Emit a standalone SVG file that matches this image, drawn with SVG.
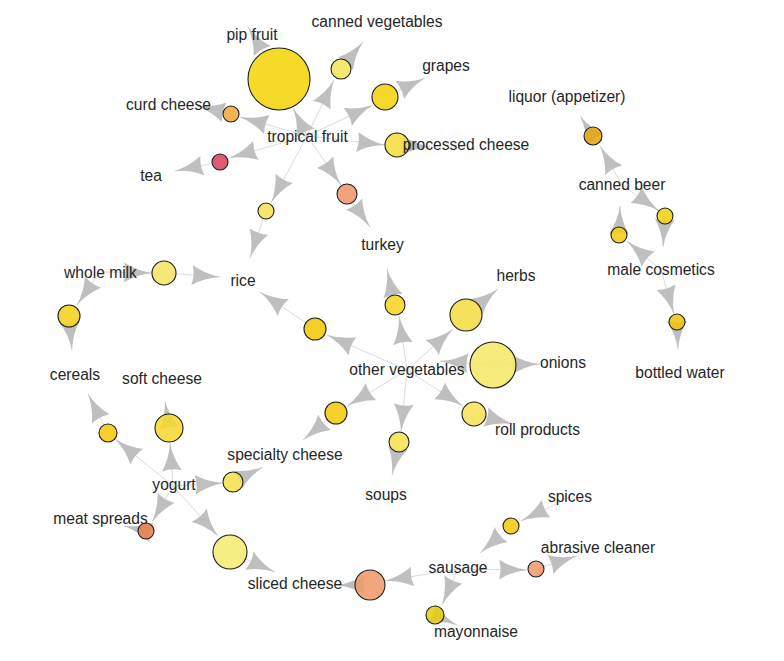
<svg xmlns="http://www.w3.org/2000/svg" width="784" height="661" viewBox="0 0 784 661">
<style>
.e{stroke:#cacaca;stroke-width:0.7;fill:none;marker-end:url(#ah)}
.r{stroke:#1e1e1e;stroke-width:1.1;fill-opacity:0.88}
.t{font-family:"Liberation Sans",Arial,sans-serif;font-size:15.6px;fill:#262626;text-anchor:middle}
</style>
<defs>
<marker id="ah" viewBox="0 0 28 20" markerWidth="28" markerHeight="20" refX="28" refY="10" orient="auto" markerUnits="userSpaceOnUse">
<path d="M28,10 Q12,7.8 0,0 Q3,10 0,20 Q12,12.2 28,10 Z" fill="#bcbcbc" fill-opacity="0.95"/>
</marker>
</defs>
<rect width="784" height="661" fill="#ffffff"/>
<g id="edges">
<path class="e" d="M307,136 L293,108"/>
<path class="e" d="M279,79 L248,27"/>
<path class="e" d="M307,136 L334,80"/>
<path class="e" d="M341,69 L363,42"/>
<path class="e" d="M307,136 L373,105"/>
<path class="e" d="M385,97 L425,78"/>
<path class="e" d="M307,136 L240,117"/>
<path class="e" d="M231,114 L197,106"/>
<path class="e" d="M307,136 L229,158"/>
<path class="e" d="M220,162 L175,171"/>
<path class="e" d="M307,136 L385,145"/>
<path class="e" d="M397,145 L430,147"/>
<path class="e" d="M307,136 L341,185"/>
<path class="e" d="M347,194 L370,227"/>
<path class="e" d="M307,136 L271,203"/>
<path class="e" d="M266,211 L250,258"/>
<path class="e" d="M100,272 L152,273"/>
<path class="e" d="M164,273 L220,277"/>
<path class="e" d="M407,370 L327,335"/>
<path class="e" d="M315,329 L260,292"/>
<path class="e" d="M100,272 L77,305"/>
<path class="e" d="M69,316 L72,350"/>
<path class="e" d="M173,486 L170,443"/>
<path class="e" d="M169,428 L165,401"/>
<path class="e" d="M173,486 L115,439"/>
<path class="e" d="M108,433 L88,394"/>
<path class="e" d="M173,486 L223,483"/>
<path class="e" d="M233,482 L263,467"/>
<path class="e" d="M173,486 L152,522"/>
<path class="e" d="M146,531 L124,526"/>
<path class="e" d="M173,486 L218,536"/>
<path class="e" d="M230,552 L275,572"/>
<path class="e" d="M458,569 L385,581"/>
<path class="e" d="M370,585 L337,585"/>
<path class="e" d="M570,497 L521,521"/>
<path class="e" d="M511,526 L480,553"/>
<path class="e" d="M458,569 L527,570"/>
<path class="e" d="M536,569 L577,556"/>
<path class="e" d="M458,569 L442,605"/>
<path class="e" d="M435,615 L457,625"/>
<path class="e" d="M407,370 L399,316"/>
<path class="e" d="M395,305 L387,269"/>
<path class="e" d="M407,370 L453,329"/>
<path class="e" d="M466,315 L498,289"/>
<path class="e" d="M493,365 L440,361"/>
<path class="e" d="M493,365 L540,364"/>
<path class="e" d="M407,370 L463,406"/>
<path class="e" d="M474,414 L513,424"/>
<path class="e" d="M407,370 L401,432"/>
<path class="e" d="M399,442 L392,475"/>
<path class="e" d="M407,370 L347,406"/>
<path class="e" d="M336,413 L303,440"/>
<path class="e" d="M593,136 L580,116"/>
<path class="e" d="M622,185 L600,146"/>
<path class="e" d="M622,185 L659,211"/>
<path class="e" d="M665,216 L663,247"/>
<path class="e" d="M619,235 L620,206"/>
<path class="e" d="M661,270 L627,241"/>
<path class="e" d="M661,270 L674,314"/>
<path class="e" d="M677,322 L678,349"/>
</g>
<g id="rules">
<g id="rule1"><circle class="r" cx="279" cy="79" r="31" fill="#f5d50c"/></g>
<g id="rule2"><circle class="r" cx="341" cy="69" r="10" fill="#f5e55a"/></g>
<g id="rule3"><circle class="r" cx="385" cy="97" r="13" fill="#f5d310"/></g>
<g id="rule4"><circle class="r" cx="231" cy="114" r="8" fill="#f2a83c"/></g>
<g id="rule5"><circle class="r" cx="220" cy="162" r="8" fill="#d9465e"/></g>
<g id="rule6"><circle class="r" cx="397" cy="145" r="12" fill="#f5dc3c"/></g>
<g id="rule7"><circle class="r" cx="347" cy="194" r="10" fill="#f0966c"/></g>
<g id="rule8"><circle class="r" cx="266" cy="211" r="8" fill="#f5e25a"/></g>
<g id="rule9"><circle class="r" cx="164" cy="273" r="12" fill="#f5e466"/></g>
<g id="rule10"><circle class="r" cx="315" cy="329" r="11" fill="#f5c70c"/></g>
<g id="rule11"><circle class="r" cx="69" cy="316" r="11" fill="#f5d21e"/></g>
<g id="rule12"><circle class="r" cx="169" cy="428" r="14" fill="#f5d830"/></g>
<g id="rule13"><circle class="r" cx="108" cy="433" r="9" fill="#f5c80c"/></g>
<g id="rule14"><circle class="r" cx="233" cy="482" r="10" fill="#f5e050"/></g>
<g id="rule15"><circle class="r" cx="146" cy="531" r="8" fill="#e57f4f"/></g>
<g id="rule16"><circle class="r" cx="230" cy="552" r="17" fill="#f5eb72"/></g>
<g id="rule17"><circle class="r" cx="370" cy="585" r="15" fill="#ef9a6c"/></g>
<g id="rule18"><circle class="r" cx="511" cy="526" r="8" fill="#f5c912"/></g>
<g id="rule19"><circle class="r" cx="536" cy="569" r="8" fill="#f09a70"/></g>
<g id="rule20"><circle class="r" cx="435" cy="615" r="9" fill="#e4cf10"/></g>
<g id="rule21"><circle class="r" cx="395" cy="305" r="10" fill="#f5d523"/></g>
<g id="rule22"><circle class="r" cx="466" cy="315" r="16" fill="#f5dd45"/></g>
<g id="rule23"><circle class="r" cx="493" cy="365" r="23" fill="#f5e866"/></g>
<g id="rule24"><circle class="r" cx="474" cy="414" r="12" fill="#f5e35a"/></g>
<g id="rule25"><circle class="r" cx="399" cy="442" r="10" fill="#f5e352"/></g>
<g id="rule26"><circle class="r" cx="336" cy="413" r="11" fill="#f5c90e"/></g>
<g id="rule27"><circle class="r" cx="593" cy="136" r="9" fill="#e6a612"/></g>
<g id="rule28"><circle class="r" cx="665" cy="216" r="8" fill="#f5d216"/></g>
<g id="rule29"><circle class="r" cx="619" cy="235" r="8" fill="#f2cd14"/></g>
<g id="rule30"><circle class="r" cx="677" cy="322" r="8" fill="#edc30d"/></g>
</g>
<g id="items">
<g id="pip-fruit"><text class="t" x="252" y="40">pip fruit</text></g>
<g id="canned-vegetables"><text class="t" x="377" y="27">canned vegetables</text></g>
<g id="grapes"><text class="t" x="446" y="71">grapes</text></g>
<g id="liquor"><text class="t" x="567" y="102">liquor (appetizer)</text></g>
<g id="curd-cheese"><text class="t" x="168.5" y="110">curd cheese</text></g>
<g id="tropical-fruit"><text class="t" x="307.5" y="141.5">tropical fruit</text></g>
<g id="processed-cheese"><text class="t" x="466" y="150">processed cheese</text></g>
<g id="tea"><text class="t" x="151" y="180.5">tea</text></g>
<g id="canned-beer"><text class="t" x="622" y="190">canned beer</text></g>
<g id="turkey"><text class="t" x="382.5" y="250">turkey</text></g>
<g id="whole-milk"><text class="t" x="100.5" y="277.5">whole milk</text></g>
<g id="rice"><text class="t" x="243" y="285.5">rice</text></g>
<g id="herbs"><text class="t" x="516" y="280.5">herbs</text></g>
<g id="male-cosmetics"><text class="t" x="661" y="275">male cosmetics</text></g>
<g id="other-vegetables"><text class="t" x="407" y="374.5">other vegetables</text></g>
<g id="onions"><text class="t" x="563" y="368">onions</text></g>
<g id="bottled-water"><text class="t" x="680" y="378">bottled water</text></g>
<g id="cereals"><text class="t" x="75" y="380">cereals</text></g>
<g id="soft-cheese"><text class="t" x="162" y="383.5">soft cheese</text></g>
<g id="roll-products"><text class="t" x="537.5" y="435">roll products</text></g>
<g id="specialty-cheese"><text class="t" x="285" y="460">specialty cheese</text></g>
<g id="soups"><text class="t" x="386" y="500">soups</text></g>
<g id="yogurt"><text class="t" x="174" y="490">yogurt</text></g>
<g id="spices"><text class="t" x="570" y="502">spices</text></g>
<g id="meat-spreads"><text class="t" x="100.5" y="524">meat spreads</text></g>
<g id="abrasive-cleaner"><text class="t" x="598" y="553">abrasive cleaner</text></g>
<g id="sausage"><text class="t" x="458" y="573">sausage</text></g>
<g id="sliced-cheese"><text class="t" x="295" y="589">sliced cheese</text></g>
<g id="mayonnaise"><text class="t" x="476" y="637">mayonnaise</text></g>
</g>
</svg>
